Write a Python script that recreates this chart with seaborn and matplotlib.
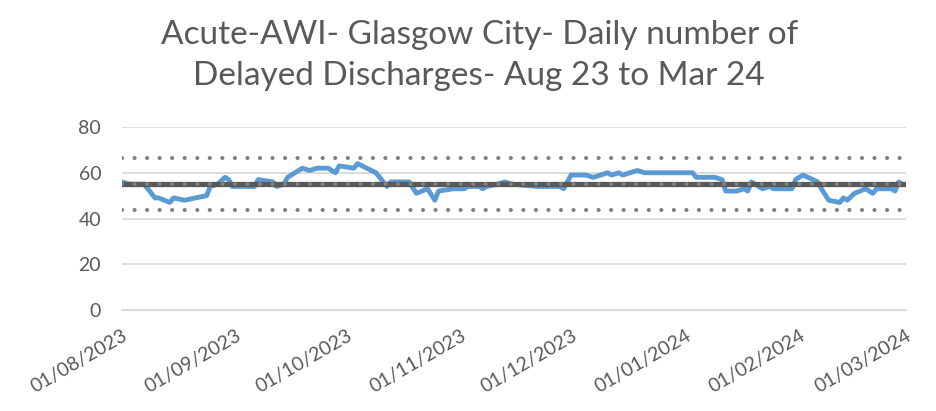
import pandas as pd
import matplotlib.pyplot as plt
import matplotlib.dates as mdates
import seaborn as sns

# values
dates = [
    "2023-08-01", "2023-08-03", "2023-08-07", "2023-08-10", "2023-08-11", "2023-08-14",
    "2023-08-15", "2023-08-18", "2023-08-21", "2023-08-24", "2023-08-25", "2023-08-27",
    "2023-08-29", "2023-08-30", "2023-08-31", "2023-09-06", "2023-09-07", "2023-09-11",
    "2023-09-12", "2023-09-14", "2023-09-15", "2023-09-19", "2023-09-21", "2023-09-23",
    "2023-09-26", "2023-09-28", "2023-09-29", "2023-10-03", "2023-10-04", "2023-10-09",
    "2023-10-11", "2023-10-12", "2023-10-13", "2023-10-18", "2023-10-20", "2023-10-23",
    "2023-10-25", "2023-10-26", "2023-10-30", "2023-10-31", "2023-11-01", "2023-11-02",
    "2023-11-03", "2023-11-06", "2023-11-07", "2023-11-08", "2023-11-11", "2023-11-13",
    "2023-11-15", "2023-11-22", "2023-11-28", "2023-11-29", "2023-12-01", "2023-12-05",
    "2023-12-07", "2023-12-11", "2023-12-12", "2023-12-14", "2023-12-15", "2023-12-17",
    "2023-12-19", "2023-12-21", "2024-01-03", "2024-01-04", "2024-01-09", "2024-01-11",
    "2024-01-12", "2024-01-15", "2024-01-17", "2024-01-18", "2024-01-19", "2024-01-21",
    "2024-01-22", "2024-01-24", "2024-01-25", "2024-01-26", "2024-01-30", "2024-01-31",
    "2024-02-02", "2024-02-06", "2024-02-07", "2024-02-09", "2024-02-12", "2024-02-13",
    "2024-02-14", "2024-02-16", "2024-02-19", "2024-02-21", "2024-02-22", "2024-02-26",
    "2024-02-27", "2024-02-28", "2024-02-29",
]
delays = [
    56, 55, 55, 49, 49, 47,
    49, 48, 49, 50, 54, 55,
    58, 57, 54, 54, 57, 56,
    54, 55, 58, 62, 61, 62,
    62, 60, 63, 62, 64, 60,
    56, 54, 56, 56, 51, 53,
    48, 52, 53, 53, 53, 53,
    54, 54, 53, 54, 55, 56,
    55, 54, 54, 53, 59, 59,
    58, 60, 59, 60, 59, 60,
    61, 60, 60, 58, 58, 57,
    52, 52, 53, 52, 56, 54,
    53, 54, 53, 53, 53, 57,
    59, 56, 53, 48, 47, 49,
    48, 51, 53, 51, 53, 53,
    52, 56, 55,
]
mean_value = 55.2
upper_limit = 66.6
lower_limit = 43.8

month_ticks = ["2023-08-01", "2023-09-01", "2023-10-01", "2023-11-01",
               "2023-12-01", "2024-01-01", "2024-02-01", "2024-03-01"]

df = pd.DataFrame({"date": pd.to_datetime(dates), "delays": delays})
ticks = pd.to_datetime(month_ticks)
x_min, x_max = ticks[0], ticks[-1]

sns.set_style("white")
plt.rcParams['font.family'] = ['Lato', 'DejaVu Sans']

grey_text = "#595959"
fig = plt.figure(figsize=(9.36, 4.11), dpi=100)
ax = fig.add_axes([0.1303, 0.2457, 0.8377, 0.4453])

sns.lineplot(data=df, x="date", y="delays", ax=ax, color="#5B9BD5", linewidth=3.5,
             solid_joinstyle="round", solid_capstyle="round", zorder=3)

ax.plot([x_min, x_max], [mean_value, mean_value], color=grey_text, linewidth=3.8, zorder=4)
for lvl in (mean_value, upper_limit, lower_limit):
    ax.plot([x_min, x_max], [lvl, lvl], color="#808080", linewidth=3.0,
            linestyle=(0, (0.01, 3.0)), dash_capstyle="round", zorder=5)

ax.set_ylim(0, 80)
ax.set_xlim(x_min, x_max)
ax.set_yticks([0, 20, 40, 60, 80])
ax.yaxis.grid(True, color="#D9D9D9", linewidth=1.3)
ax.set_axisbelow(True)
for side in ("left", "right", "top"):
    ax.spines[side].set_visible(False)
ax.spines["bottom"].set_color("#D9D9D9")
ax.spines["bottom"].set_linewidth(1.3)

ax.set_xticks(ticks)
ax.xaxis.set_major_formatter(mdates.DateFormatter("%d/%m/%Y"))
ax.tick_params(axis="x", length=5, width=1.3, color="#D9D9D9", labelsize=14,
               labelcolor=grey_text, pad=7)
ax.tick_params(axis="y", length=0, labelsize=14, labelcolor=grey_text, pad=15)
for lbl in ax.get_xticklabels():
    lbl.set_rotation(30)
    lbl.set_ha("right")
    lbl.set_rotation_mode("anchor")

ax.set_xlabel("")
ax.set_ylabel("")

fig.text(0.512, 0.915, "Acute-AWI- Glasgow City- Daily number of", ha="center", va="center",
         fontsize=24, color=grey_text)
fig.text(0.512, 0.815, "Delayed Discharges- Aug 23 to Mar 24", ha="center", va="center",
         fontsize=24, color=grey_text)

fig.savefig("out.png", dpi=100)
